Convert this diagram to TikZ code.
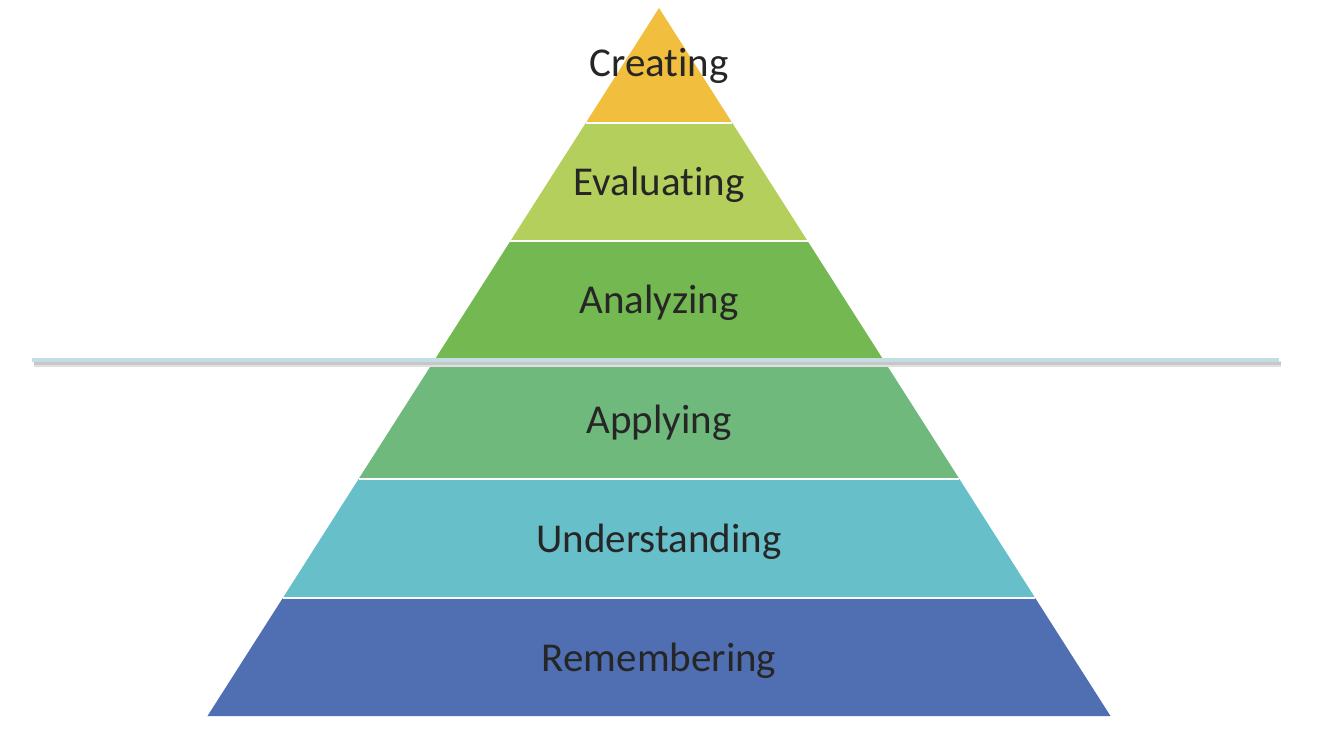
\documentclass[tikz,border=0pt]{standalone}
\usepackage{fontspec}
\setmainfont[Ligatures=NoCommon]{Carlito}
\definecolor{cCreate}{HTML}{F2BE3E}
\definecolor{cEval}{HTML}{B5CF5C}
\definecolor{cAnal}{HTML}{73B850}
\definecolor{cApply}{HTML}{6EB97B}
\definecolor{cUnder}{HTML}{67BFC9}
\definecolor{cRemem}{HTML}{506EB2}
\definecolor{cLine}{HTML}{C4DDE2}
\definecolor{cText}{HTML}{262626}
\tikzset{
  lbl/.style={text=cText, font=\fontsize{41}{44}\selectfont, inner sep=0pt, anchor=base},
}
\begin{document}
\begin{tikzpicture}[x=1pt,y=-1pt]
\useasboundingbox[fill=white] (0,0) rectangle (1334,735);
% layers
\fill[cRemem]  (659-376.2,598) -- (659+376.2,598) -- (659+451.5,716) -- (659-451.5,716) -- cycle;
\fill[cUnder]  (659-300.4,479) -- (659+300.4,479) -- (659+376.2,598) -- (659-376.2,598) -- cycle;
\fill[cApply]  (659-224.5,360) -- (659+224.5,360) -- (659+300.4,479) -- (659-300.4,479) -- cycle;
\fill[cAnal]   (659-148.6,241) -- (659+148.6,241) -- (659+224.5,360) -- (659-224.5,360) -- cycle;
\fill[cEval]   (659-73.3,123) -- (659+73.3,123) -- (659+148.6,241) -- (659-148.6,241) -- cycle;
\fill[cCreate] (659,8) -- (659+73.3,123) -- (659-73.3,123) -- cycle;
% separators
\foreach \yy/\hw in {123/73.3, 241/148.6, 479/300.4, 598/376.2}{
  \draw[white!92!cLine, line width=1.6pt] (659-\hw,\yy) -- (659+\hw,\yy);
}
% horizontal divider with soft shadow
\coordinate (lineL) at (32,360);
\coordinate (lineR) at (1279,360);
\draw[black!12, line width=6pt] ([shift={(2,4)}]lineL) -- ([shift={(2,4)}]lineR);
\draw[black!22, line width=3pt] ([shift={(2,3.5)}]lineL) -- ([shift={(2,3.5)}]lineR);
\draw[cLine, line width=3.5pt] (lineL) -- (lineR);
% labels
\node[lbl] (creating) at (659,77) {Creating};
\node[lbl] (evaluating) at (659,196) {Evaluating};
\node[lbl] (analyzing) at (659,314) {Analyzing};
\node[lbl] (applying) at (659,433) {Applying};
\node[lbl] (understanding) at (659,552) {Understanding};
\node[lbl] (remembering) at (659,671) {Remembering};
\end{tikzpicture}
\end{document}
